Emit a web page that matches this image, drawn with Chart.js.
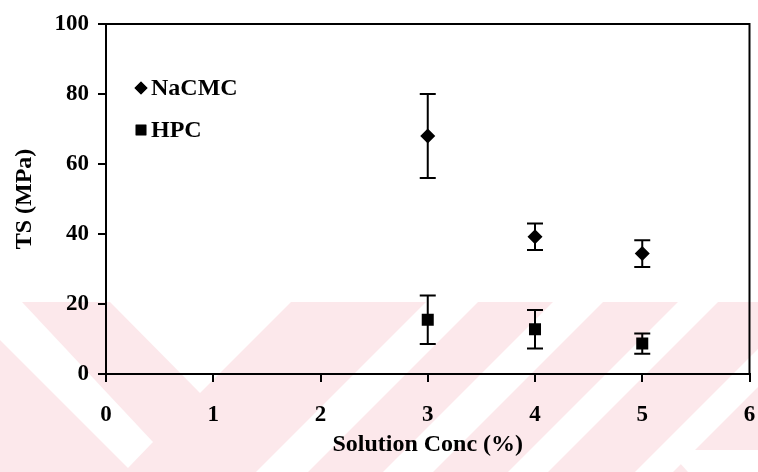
<!DOCTYPE html>
<html><head><meta charset="utf-8">
<script src="https://cdn.jsdelivr.net/npm/chart.js@4.4.1/dist/chart.umd.min.js"></script>
<style>html,body{margin:0;padding:0;background:#fff;overflow:hidden}canvas{display:block}</style>
</head><body>
<canvas id="c" width="758" height="472" style="width:758px;height:472px"></canvas>
<script>
// ---- data ----
const concentrations = [3, 4, 5];
const nacmcTS  = [68.0, 39.2, 34.4];
const nacmcErr = [12.0, 3.8, 3.8];
const hpcTS    = [15.5, 12.8, 8.7];
const hpcErr   = [6.9, 5.5, 2.9];
const seriesNames = ['NaCMC', 'HPC'];
const xTickValues = [0, 1, 2, 3, 4, 5, 6];
const yTickValues = [0, 20, 40, 60, 80, 100];
const xTitle = 'Solution Conc (%)';
const yTitle = 'TS (MPa)';

const FONT = "'Liberation Serif', 'Times New Roman', serif";
const errorsBySeries = [nacmcErr, hpcErr];

const watermark = {
  id: 'watermark',
  beforeDraw(chart) {
    const ctx = chart.ctx, W = chart.width, H = chart.height;
    ctx.save();
    ctx.fillStyle = '#ffffff';
    ctx.fillRect(0, 0, W, H);
    const top = 302;
    ctx.beginPath(); ctx.rect(0, top, W, H - top); ctx.clip();
    ctx.fillStyle = '#fce8eb';
    ctx.fillRect(0, top, W, H - top);
    ctx.fillStyle = '#ffffff';
    const poly = pts => { ctx.beginPath(); ctx.moveTo(pts[0][0], pts[0][1]); for (let i = 1; i < pts.length; i++) ctx.lineTo(pts[i][0], pts[i][1]); ctx.closePath(); ctx.fill(); };
    poly([[0, top], [22, top], [153, 442], [128, 468], [0, 340]]);
    poly([[110, top], [291, top], [200, 393]]);
    [[728, 780], [855, 905], [980, 1020], [1107, 1145]].forEach(([u1, u2]) => {
      poly([[u1 - top, top], [u2 - top, top], [u2 - H, H], [u1 - H, H]]);
    });
    poly([[668, 450], [W, 450], [W, H], [688, H]]);
    ctx.restore();
  }
};

const frame = {
  id: 'frame',
  afterDraw(chart) {
    const {ctx, chartArea: a} = chart;
    ctx.save();
    ctx.strokeStyle = '#000'; ctx.lineWidth = 2;
    ctx.beginPath();
    ctx.moveTo(a.left, a.top); ctx.lineTo(a.right, a.top); ctx.lineTo(a.right, a.bottom);
    ctx.stroke();
    ctx.restore();
  }
};

const errorBars = {
  id: 'errorBars',
  beforeDatasetsDraw(chart) {
    const {ctx, scales: {x, y}} = chart;
    ctx.save();
    ctx.strokeStyle = '#000'; ctx.lineWidth = 2;
    chart.data.datasets.forEach((ds, i) => {
      const errs = errorsBySeries[i];
      ds.data.forEach((p, j) => {
        const px = x.getPixelForValue(p.x);
        const yt = y.getPixelForValue(p.y + errs[j]);
        const yb = y.getPixelForValue(p.y - errs[j]);
        ctx.beginPath();
        ctx.moveTo(px, yt); ctx.lineTo(px, yb);
        ctx.moveTo(px - 8, yt); ctx.lineTo(px + 8, yt);
        ctx.moveTo(px - 8, yb); ctx.lineTo(px + 8, yb);
        ctx.stroke();
      });
    });
    ctx.restore();
  }
};

const insideLegend = {
  id: 'insideLegend',
  afterDraw(chart) {
    const {ctx, chartArea: a} = chart;
    ctx.save();
    const rows = [{y: a.top + 64, radius: 6.5}, {y: a.top + 106, radius: 7.5}];
    chart.data.datasets.forEach((ds, i) => {
      const cx = a.left + 35, cy = rows[i].y;
      Chart.helpers.drawPoint(ctx, {pointStyle: ds.pointStyle, radius: rows[i].radius, rotation: 0, borderWidth: 0}, cx, cy);
      ctx.fillStyle = '#000';
      ctx.fill();
      ctx.font = 'bold 24px ' + FONT;
      ctx.textAlign = 'left'; ctx.textBaseline = 'middle';
      ctx.fillText(ds.label, cx + 10, cy + 1);
    });
    ctx.restore();
  }
};

new Chart(document.getElementById('c'), {
  type: 'scatter',
  data: {
    datasets: [
      { label: seriesNames[0], data: concentrations.map((c, i) => ({x: c, y: nacmcTS[i]})),
        pointStyle: 'rectRot', pointRadius: 7.5, backgroundColor: '#000', borderColor: '#000', borderWidth: 0 },
      { label: seriesNames[1], data: concentrations.map((c, i) => ({x: c, y: hpcTS[i]})),
        pointStyle: 'rect', pointRadius: 8.5, backgroundColor: '#000', borderColor: '#000', borderWidth: 0 }
    ]
  },
  options: {
    responsive: false,
    animation: false,
    events: [],
    layout: { padding: { left: 0, right: 8, top: 24, bottom: 0 } },
    plugins: { legend: { display: false }, tooltip: { enabled: false } },
    scales: {
      x: {
        type: 'linear', min: 0, max: 6,
        afterBuildTicks: s => { s.ticks = xTickValues.map(v => ({value: v})); },
        afterFit: s => { s.height = 98; s.paddingLeft = 0; s.paddingRight = 0; },
        ticks: { color: '#000', font: { family: FONT, size: 23, weight: 'bold' }, padding: 19 },
        grid: { drawOnChartArea: false, drawTicks: true, tickLength: 8, color: '#000', lineWidth: 2 },
        border: { display: true, color: '#000', width: 2 },
        title: { display: true, text: xTitle, color: '#000', font: { family: FONT, size: 24, weight: 'bold' }, padding: { top: 0, bottom: 13 } }
      },
      y: {
        type: 'linear', min: 0, max: 100,
        afterBuildTicks: s => { s.ticks = yTickValues.map(v => ({value: v})); },
        afterFit: s => { s.width = 106; s.paddingTop = 0; s.paddingBottom = 0; },
        ticks: { color: '#000', font: { family: FONT, size: 23, weight: 'bold' }, padding: 9 },
        grid: { drawOnChartArea: false, drawTicks: true, tickLength: 8, color: '#000', lineWidth: 2 },
        border: { display: true, color: '#000', width: 2 },
        title: { display: true, text: yTitle, color: '#000', font: { family: FONT, size: 24, weight: 'bold' }, padding: { top: 10, bottom: 0 } }
      }
    }
  },
  plugins: [watermark, errorBars, frame, insideLegend]
});
</script>
</body></html>
